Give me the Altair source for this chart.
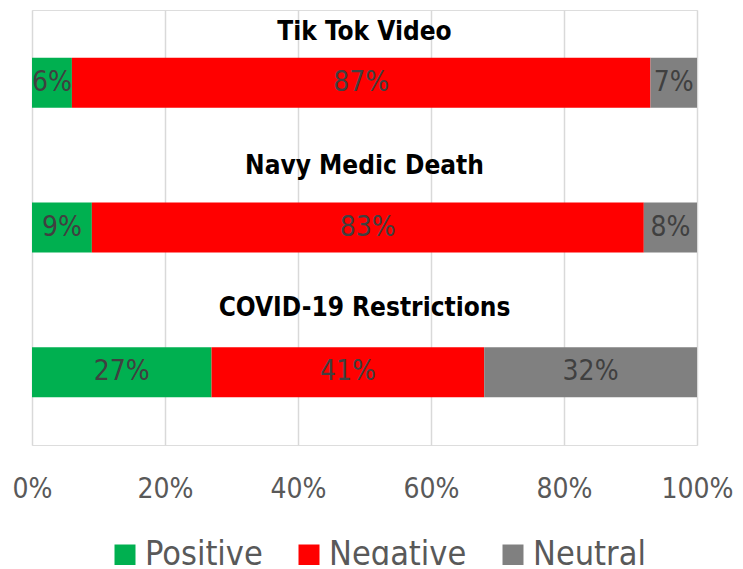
import altair as alt
import pandas as pd

categories = ["Tik Tok Video", "Navy Medic Death", "COVID-19 Restrictions"]
sentiments = ["Positive", "Negative", "Neutral"]
positive = [0.06, 0.09, 0.27]
negative = [0.87, 0.83, 0.41]
neutral = [0.07, 0.08, 0.32]
colors = ["#00B050", "#FF0000", "#808080"]

# layout: vertical offset of each category's heading above its bar (px)
title_dy = [-51, -62, -64]

FONT = "DejaVu Sans Condensed, Liberation Sans Narrow, sans-serif"

rows = []
for i, c in enumerate(categories):
    for j, (s, vals) in enumerate(zip(sentiments, [positive, negative, neutral])):
        rows.append({"cat": c, "sent": s, "order": j, "value": vals[i]})
df = pd.DataFrame(rows)
titles = pd.DataFrame({"cat": categories, "x": [0.5] * len(categories)})

yscale = alt.Scale(domain=categories, paddingInner=0.655, paddingOuter=0.33)
yenc = alt.Y("cat:N", scale=yscale, axis=None)

base = alt.Chart(df).transform_stack(
    stack="value", groupby=["cat"], as_=["v0", "v1"],
    sort=[alt.SortField("order", order="ascending")]
).transform_calculate(mid="(datum.v0 + datum.v1) / 2")

bars = base.mark_bar(strokeWidth=0).encode(
    x=alt.X("v0:Q", scale=alt.Scale(domain=[0, 1], nice=False),
            axis=alt.Axis(format="%", values=[0, 0.2, 0.4, 0.6, 0.8, 1.0],
                          domain=False, ticks=False, grid=True, labelFlush=False,
                          gridColor="#D9D9D9", gridWidth=1.5,
                          labelFont=FONT, labelFontSize=28, labelColor="#595959",
                          labelPadding=30, title=None)),
    x2="v1:Q",
    y=yenc,
    color=alt.Color("sent:N", scale=alt.Scale(domain=sentiments, range=colors),
                    legend=alt.Legend(title=None, orient="none", direction="horizontal",
                                      legendX=76, legendY=528,
                                      labelFont=FONT, labelFontSize=34, labelColor="#595959",
                                      symbolType="square", symbolSize=441,
                                      symbolStrokeWidth=0, labelOffset=3, columnPadding=29)),
    order=alt.Order("order:Q"),
)

labels = base.mark_text(font=FONT, fontSize=28, color="#404040", baseline="middle").encode(
    x=alt.X("mid:Q"),
    y=yenc,
    text=alt.Text("value:Q", format=".0%"),
)

title_layers = []
for c, d in zip(categories, title_dy):
    title_layers.append(
        alt.Chart(titles).transform_filter(alt.datum.cat == c).mark_text(
            font=FONT, fontSize=26, fontWeight="bold", color="#000000", dy=d, baseline="middle"
        ).encode(x=alt.X("x:Q"), y=yenc, text="cat:N")
    )

chart = alt.layer(bars, labels, *title_layers).properties(
    width=665, height=435,
    autosize=alt.AutoSizeParams(type="none"),
    padding={"left": 24, "top": 2, "right": 38, "bottom": 120},
).configure_view(strokeWidth=0, stroke="transparent").configure(background="white")

chart.save("out.html", embed_options={"renderer": "svg", "actions": False})
